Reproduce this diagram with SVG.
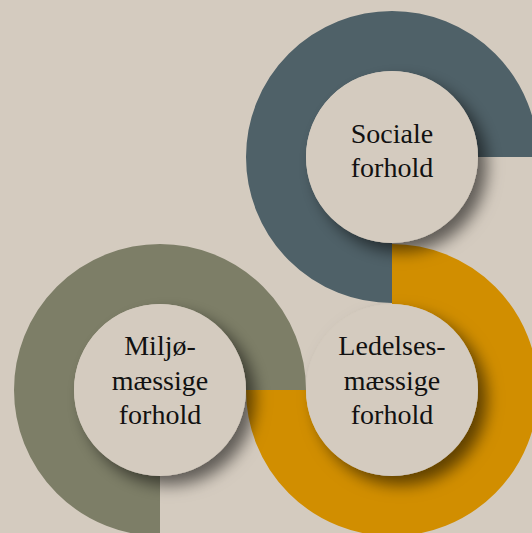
<svg xmlns="http://www.w3.org/2000/svg" width="532" height="533" viewBox="0 0 532 533">
  <defs>
    <filter id="shadow" x="-30%" y="-30%" width="170%" height="170%">
      <feDropShadow dx="9" dy="9" stdDeviation="8" flood-color="#000000" flood-opacity="0.55"/>
    </filter>
    <style>
      .ring { fill: none; stroke-width: 60; stroke-linecap: butt; }
      .slate { stroke: #4f6168; }
      .orange { stroke: #d18e00; }
      .green { stroke: #7d7e67; }
      .disc { fill: #d4cbbf; filter: url(#shadow); }
      .label { font-family: "Liberation Serif", "Times New Roman", serif; font-size: 28px; fill: #111111; text-anchor: middle; }
    </style>
  </defs>
  <rect x="0" y="0" width="532" height="533" fill="#d4cbbf"/>

  <g id="node-ledelse">
    <path class="ring orange" d="M 392 274 A 116 116 0 1 1 276 390"/>
    <circle class="disc" cx="392" cy="390" r="86"/>
    <text class="label" x="392" y="355">Ledelses-</text>
    <text class="label" x="392" y="390">mæssige</text>
    <text class="label" x="392" y="424">forhold</text>
  </g>

  <g id="node-sociale">
    <path class="ring slate" d="M 392 273 A 116 116 0 1 1 508 157"/>
    <circle class="disc" cx="392" cy="157" r="86"/>
    <text class="label" x="392" y="143">Sociale</text>
    <text class="label" x="392" y="177">forhold</text>
  </g>

  <g id="node-miljoe">
    <path class="ring green" d="M 160 506 A 116 116 0 1 1 276 390"/>
    <circle class="disc" cx="160" cy="390" r="86"/>
    <text class="label" x="160" y="355">Miljø-</text>
    <text class="label" x="160" y="390">mæssige</text>
    <text class="label" x="160" y="424">forhold</text>
  </g>

  <g id="connectors"/>
</svg>
